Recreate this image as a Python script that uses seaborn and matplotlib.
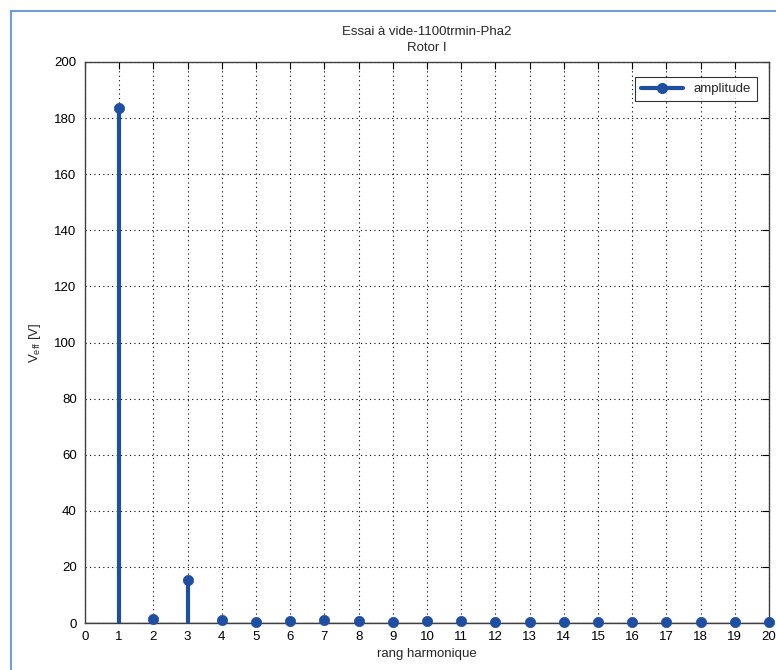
#!/usr/bin/env python3
"""Harmonic spectrum of the no-load voltage (stem plot)."""

import matplotlib
matplotlib.use("Agg")
import matplotlib.pyplot as plt
from matplotlib.patches import Rectangle
import pandas as pd
import seaborn as sns


HARMONIC_RANK = list(range(1, 21))
AMPLITUDE = [183.5, 1.4, 15.5, 1.2, 0.3, 0.6, 1.1, 0.7, 0.3, 0.6,
             0.7, 0.4, 0.3, 0.4, 0.4, 0.3, 0.3, 0.3, 0.3, 0.2]
X_TICKS = list(range(0, 21))
Y_TICKS = list(range(0, 201, 20))

STEM_COLOR = "#1f4fa3"


def main() -> None:
    sns.set_theme(style="white")
    plt.rcParams["font.family"] = ["Liberation Sans Narrow", "Liberation Sans", "DejaVu Sans"]

    df = pd.DataFrame({"rank": HARMONIC_RANK, "amplitude": AMPLITUDE})

    fig = plt.figure(figsize=(7.76, 6.70), dpi=100)
    fig.patches.append(Rectangle((11 / 776, -0.1), 1.2, 1 - 11 / 670 + 0.1,
                                 transform=fig.transFigure, fill=False,
                                 edgecolor="#6f9fd8", linewidth=1.5))
    ax = fig.add_axes([85 / 776, 1 - 623 / 670, (769 - 85) / 776, (623 - 62) / 670])

    ax.vlines(df["rank"], 0, df["amplitude"], color=STEM_COLOR, linewidth=3, zorder=3)
    sns.scatterplot(data=df, x="rank", y="amplitude", ax=ax, color=STEM_COLOR,
                    s=55, edgecolor=STEM_COLOR, linewidth=0.5, zorder=4, legend=False,
                    clip_on=False)
    ax.axhline(0, color="#404040", linewidth=1, zorder=2)

    # legend proxy: line with marker at the end
    ax.plot([], [], color=STEM_COLOR, linewidth=3, marker="o", markersize=7,
            markevery=[1], label="amplitude")
    leg = ax.legend(loc="upper right", fontsize=9.5, frameon=True, fancybox=False,
                    handlelength=3.2, borderpad=0.45, bbox_to_anchor=(0.992, 0.985))
    leg.get_frame().set_edgecolor("black")
    leg.get_frame().set_linewidth(0.8)

    ax.set_xlim(0, 20)
    ax.set_ylim(0, 200)
    ax.set_xticks(X_TICKS)
    ax.set_yticks(Y_TICKS)
    ax.grid(True, color="black", linestyle=(0, (1, 3)), linewidth=0.8)
    ax.tick_params(direction="in", length=5, top=True, right=True, pad=6,
                   labelsize=9.5, colors="black", width=0.8)
    for s in ax.spines.values():
        s.set_color("#404040")
        s.set_linewidth(1)

    ax.set_xlabel("rang harmonique", fontsize=9.5, labelpad=3)
    ax.set_ylabel(r"V$_{\mathregular{eff}}$ [V]", fontsize=9.5, labelpad=8)
    ax.set_title("Essai à vide-1100trmin-Pha2\nRotor I", fontsize=9.5, linespacing=1.45, pad=8)

    fig.savefig("out.png", dpi=100)
    plt.close(fig)


if __name__ == "__main__":
    main()
